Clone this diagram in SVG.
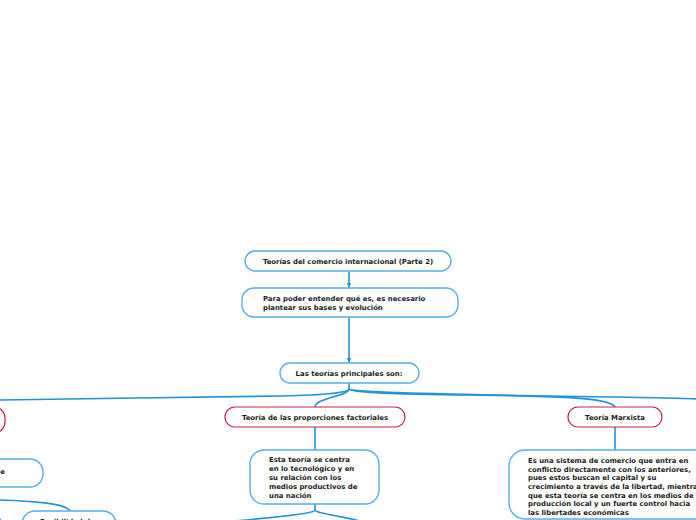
<svg xmlns="http://www.w3.org/2000/svg" width="696" height="520" viewBox="0 0 696 520">
<defs>
<marker id="arr" viewBox="0 0 10 10" refX="9" refY="5" markerWidth="5" markerHeight="5" orient="auto" markerUnits="userSpaceOnUse">
<path d="M0,0 L10,5 L0,10 z" fill="#2192dc"/>
</marker>
<style>
.blue{fill:#fff;stroke:#55aeea;stroke-width:1.4}
.red{fill:#fff;stroke:#c9213c;stroke-width:1.2}
.t{font-family:"DejaVu Sans",Verdana,sans-serif;font-weight:bold;font-size:6.9px;fill:#1a1a1a}
.c{text-anchor:middle}
.ln{fill:none;stroke:#2192dc;stroke-width:1.6;stroke-linecap:round}
</style>
</defs>
<rect width="696" height="520" fill="#fff"/>
<g id="connectors">
<path class="ln" d="M349,272 V287" marker-end="url(#arr)"/>
<path class="ln" d="M349,317 V362" marker-end="url(#arr)"/>
<path class="ln" d="M349,383 V389 C349,392 330,395 280,396 C200,397 80,399 -2,400"/>
<path class="ln" d="M349,389 C349,396 315,398 315,407"/>
<path class="ln" d="M349,389 C349,393 400,394 470,395 C550,396 610,397 615,407"/>
<path class="ln" d="M349,389 C352,393 450,394 550,396 C620,397 680,398 698,399"/>
<path class="ln" d="M315,427 V450"/>
<path class="ln" d="M615,427 V450"/>
<path class="ln" d="M315,504 V510 C315,513 290,516 234,521"/>
<path class="ln" d="M315,510 C315,513 340,516 360,521"/>
<path class="ln" d="M-2,500 C30,501 66,503 70,511"/>
</g>
<g id="n1">
<rect class="blue" x="245" y="251" width="206" height="20" rx="10"/>
<text class="t c" x="348" y="263.5">Teorías del comercio internacional (Parte 2)</text>
</g>
<g id="n2">
<rect class="blue" x="242" y="288" width="216" height="29" rx="12"/>
<text class="t" x="263" y="300.5">Para poder entender qué es, es necesario</text>
<text class="t" x="263" y="309.5">plantear sus bases y evolución</text>
</g>
<g id="n3">
<rect class="blue" x="280" y="363" width="139" height="20" rx="10"/>
<text class="t c" x="349" y="375.5">Las teorías principales son:</text>
</g>
<g id="n4">
<rect class="red" x="-100" y="407" width="105" height="26" rx="11"/>
</g>
<g id="n5">
<rect class="red" x="225" y="407" width="180" height="20" rx="10"/>
<text class="t c" x="315" y="419.5">Teoría de las proporciones factoriales</text>
</g>
<g id="n6">
<rect class="red" x="568" y="407" width="94" height="20" rx="10"/>
<text class="t c" x="615" y="419.5">Teoría Marxista</text>
</g>
<g id="n7">
<rect class="blue" x="-100" y="459" width="143" height="28" rx="13"/>
<text class="t" x="5" y="474" text-anchor="end">e</text>
</g>
<g id="n8">
<rect class="blue" x="250" y="450" width="129" height="54" rx="14"/>
<text class="t" x="269" y="462">Esta teoría se centra</text>
<text class="t" x="269" y="471">en lo tecnológico y en</text>
<text class="t" x="269" y="480">su relación con los</text>
<text class="t" x="269" y="489">medios productivos de</text>
<text class="t" x="269" y="497.5">una nación</text>
</g>
<g id="n9">
<rect class="blue" x="509" y="450" width="240" height="69" rx="16"/>
<text class="t" x="528" y="463">Es una sistema de comercio que entra en</text>
<text class="t" x="528" y="471.5">conflicto directamente con los anteriores,</text>
<text class="t" x="528" y="480">pues estos buscan el capital y su</text>
<text class="t" x="528" y="489">crecimiento a través de la libertad, mientras</text>
<text class="t" x="528" y="497.5">que esta teoría se centra en los medios de</text>
<text class="t" x="528" y="506">producción local y un fuerte control hacia</text>
<text class="t" x="528" y="514.5">las libertades económicas</text>
</g>
<g id="n10">
<rect class="blue" x="22" y="511" width="94" height="30" rx="13"/>
<text class="t" x="40" y="523.5">Posibilidad de</text>
</g>
<g id="n11">
<rect class="blue" x="-60" y="514" width="63" height="30" rx="13"/>
</g>
</svg>
